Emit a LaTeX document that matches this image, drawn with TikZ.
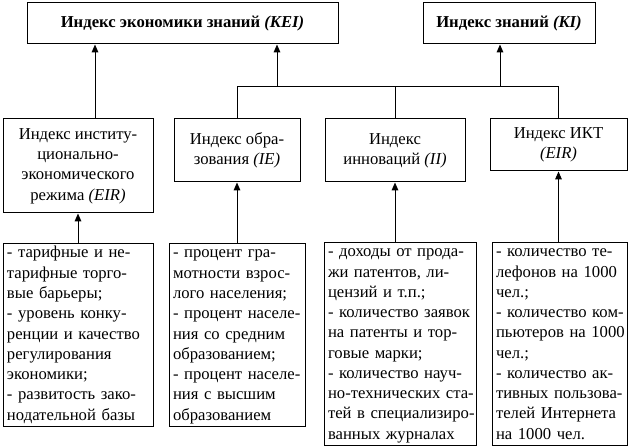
\documentclass[tikz,border=0pt]{standalone}
\usepackage{fontspec}
\setmainfont{Liberation Serif}
\usetikzlibrary{arrows.meta}
\newcommand{\lines}[1]{\begin{tabular}{@{}l@{}}#1\end{tabular}}
\begin{document}
\begin{tikzpicture}[x=0.75pt,y=-0.75pt]
\tikzset{
  box/.style={draw=black, line width=0.75pt, inner xsep=3pt, inner ysep=0pt,
              font=\fontsize{12.5pt}{15.2pt}\selectfont},
  topbox/.style={box, align=center, minimum height=30.75pt},
  midbox/.style={box, align=center},
  listbox/.style={box, align=left},
  arr/.style={-{Triangle[length=6pt,width=5pt]}, line width=0.75pt},
  ln/.style={line width=0.75pt}
}
\useasboundingbox (0,0) rectangle (632,448);
% top level
\node[topbox, minimum width=233.25pt] (kei) at (182.5,23.5)
  {\textbf{Индекс экономики знаний \textit{(KEI)}}};
\node[topbox, minimum width=129pt] (ki) at (509,23.5)
  {\textbf{Индекс знаний \textit{(KI)}}};
% middle level
\node[midbox, minimum width=112.5pt, minimum height=70.5pt] (eir) at (78,166)
  {Индекс институ-\\ционально-\\экономического\\режима \textit{(EIR)}};
\node[midbox, minimum width=94.5pt, minimum height=47.25pt] (ie) at (237,150.5)
  {Индекс обра-\\зования \textit{(IE)}};
\node[midbox, minimum width=105pt, minimum height=47.25pt] (ii) at (395,150.5)
  {Индекс\\инноваций \textit{(II)}};
\node[midbox, minimum width=102.75pt, minimum height=39pt] (ict) at (558.5,145)
  {Индекс ИКТ\\\textit{(EIR)}};
% bottom level
\node[listbox, text width=106.5pt, minimum height=135pt] (b1) at (78,335)
  {\lines{- тарифные и не-\\тарифные торго-\\вые барьеры;\\- уровень конку-\\ренции и качество\\регулирования\\экономики;\\- развитость зако-\\нодательной базы}};
\node[listbox, text width=96pt, minimum height=135pt] (b2) at (237,335)
  {\lines{- процент гра-\\мотности взрос-\\лого населения;\\- процент населе-\\ния со средним\\образованием;\\- процент населе-\\ния с высшим\\образованием}};
\node[listbox, text width=108pt, minimum height=148.5pt] (b3) at (400,344)
  {\lines{- доходы от прода-\\жи патентов, ли-\\цензий и т.п.;\\- количество заявок\\на патенты и тор-\\говые марки;\\- количество науч-\\но-технических ста-\\тей в специализиро-\\ванных журналах}};
\node[listbox, text width=95.25pt, minimum height=148.5pt] (b4) at (559.5,344)
  {\lines{- количество те-\\лефонов на 1000\\чел.;\\- количество ком-\\пьютеров на 1000\\чел.;\\- количество ак-\\тивных пользова-\\телей Интернета\\на 1000 чел.}};
% helper coordinates
\coordinate (bus) at (0,87);
\coordinate (xa) at (95,0);
\coordinate (xb) at (277,0);
\coordinate (xc) at (500,0);
% connectors
\draw[arr] (eir.north -| xa) -- (kei.south -| xa);
\draw[ln] (ie.north) -- (ie.north |- bus) -- (ict.north |- bus) -- (ict.north);
\draw[ln] (ii.north) -- (ii.north |- bus);
\draw[arr] (bus -| xb) -- (kei.south -| xb);
\draw[arr] (bus -| xc) -- (ki.south -| xc);
\draw[arr] (b1.north -| eir) -- (eir.south);
\draw[arr] (b2.north -| ie) -- (ie.south);
\draw[arr] (b3.north -| ii) -- (ii.south);
\draw[arr] (b4.north -| ict) -- (ict.south);
\end{tikzpicture}
\end{document}
